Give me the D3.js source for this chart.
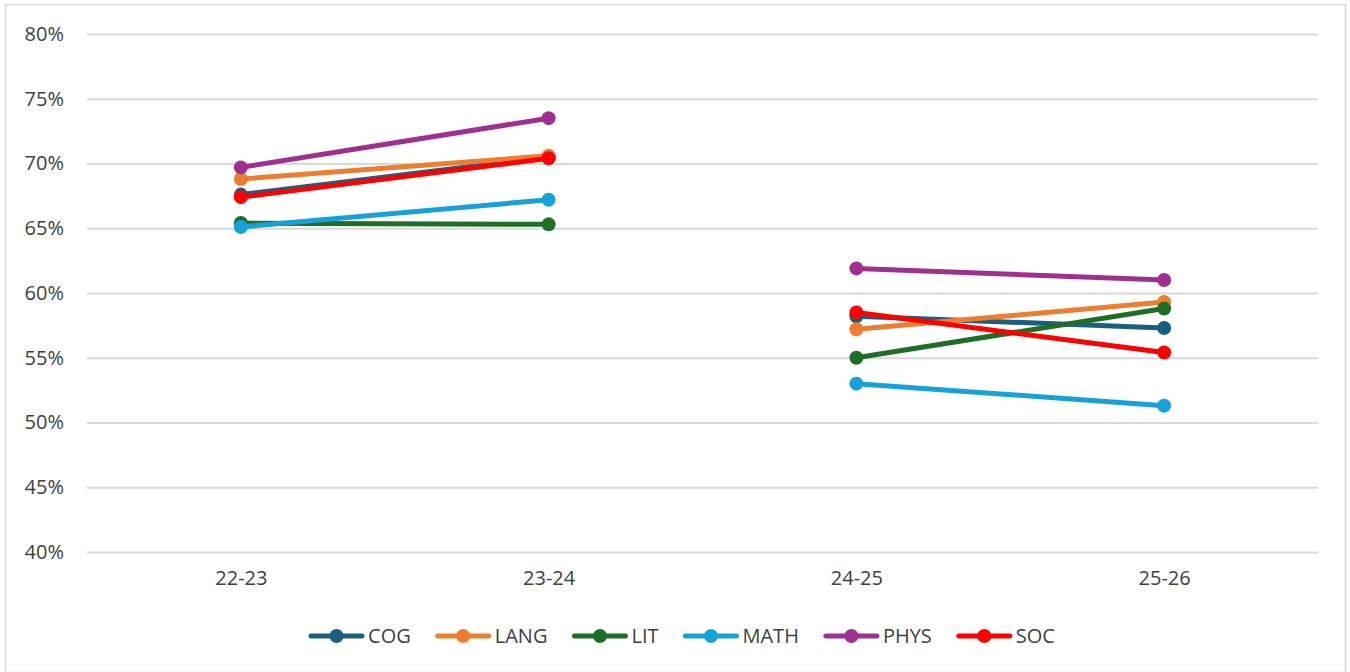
<!DOCTYPE html>
<html>
<head>
<meta charset="utf-8">
<script src="https://cdn.jsdelivr.net/npm/d3@7"></script>
<style>
  html, body { margin: 0; padding: 0; background: #fff; }
  svg { display: block; }
  text { font-family: "Open Sans", "Noto Sans", sans-serif; fill: #404040; }
</style>
</head>
<body>
<svg id="chart" width="1350" height="672"></svg>
<script>
// School years on the category axis
const years = ["22-23", "23-24", "24-25", "25-26"];
// Lines are drawn separately for each pair of years
const yearGroups = [["22-23", "23-24"], ["24-25", "25-26"]];

// Share of students meeting the benchmark, by domain (fractions)
const cog  = [0.676, 0.705, 0.582, 0.573];
const lang = [0.688, 0.706, 0.572, 0.593];
const lit  = [0.654, 0.653, 0.550, 0.588];
const math = [0.651, 0.672, 0.530, 0.513];
const phys = [0.697, 0.735, 0.619, 0.610];
const soc  = [0.674, 0.704, 0.585, 0.554];

const seriesNames = ["COG", "LANG", "LIT", "MATH", "PHYS", "SOC"];
const seriesValues = [cog, lang, lit, math, phys, soc];
const seriesColors = ["#1b5e80", "#ed7d31", "#1f6e28", "#17a1d9", "#a0308f", "#ff0000"];

const yTicks = [0.40, 0.45, 0.50, 0.55, 0.60, 0.65, 0.70, 0.75, 0.80];

const svg = d3.select("#chart");
const W = 1350, H = 672;
const plot = { left: 87, right: 1318, top: 34, bottom: 552 };
const fontSize = 20;

// Outer chart frame
svg.append("rect")
  .attr("x", 5.5).attr("y", 4.5)
  .attr("width", W - 10).attr("height", H - 4)
  .attr("fill", "#fff").attr("stroke", "#d9d9d9").attr("stroke-width", 1.5);

const x = d3.scalePoint().domain(years).range([plot.left, plot.right]).padding(0.5);
const y = d3.scaleLinear().domain([0.40, 0.80]).range([plot.bottom, plot.top]);

// Horizontal gridlines and percentage labels
const yAxis = d3.axisLeft(y)
  .tickValues(yTicks)
  .tickFormat(d3.format(".0%"))
  .tickSize(-(plot.right - plot.left))
  .tickPadding(23);
const gy = svg.append("g").attr("transform", `translate(${plot.left},0)`).call(yAxis);
gy.select(".domain").remove();
gy.selectAll(".tick line").attr("stroke", "#d9d9d9").attr("stroke-width", 2);
gy.selectAll(".tick text").attr("font-size", fontSize).attr("fill", "#404040");

// Category labels
const xAxis = d3.axisBottom(x).tickSize(0).tickPadding(19);
const gx = svg.append("g").attr("transform", `translate(0,${plot.bottom})`).call(xAxis);
gx.select(".domain").remove();
gx.selectAll(".tick text").attr("font-size", fontSize).attr("fill", "#404040");

const line = d3.line().x(d => x(d.year)).y(d => y(d.value));

// Series lines and markers
seriesNames.forEach((name, i) => {
  const pts = years.map((yr, j) => ({ year: yr, value: seriesValues[i][j] }));
  const g = svg.append("g").attr("class", "series " + name);
  yearGroups.forEach(grp => {
    const seg = pts.filter(p => grp.includes(p.year));
    g.append("path")
      .datum(seg)
      .attr("d", line)
      .attr("fill", "none")
      .attr("stroke", seriesColors[i])
      .attr("stroke-width", 5)
      .attr("stroke-linecap", "round");
  });
  g.selectAll("circle").data(pts).join("circle")
    .attr("cx", d => x(d.year))
    .attr("cy", d => y(d.value))
    .attr("r", 7)
    .attr("fill", seriesColors[i]);
});

// Legend, centered below the axis
const legend = svg.append("g").attr("class", "legend");
const legendY = 636;
const swatchW = 55, textGap = 4, itemGap = 25;
const items = seriesNames.map((name, i) => {
  const item = legend.append("g");
  item.append("line")
    .attr("x1", 2).attr("x2", swatchW - 2)
    .attr("y1", 0).attr("y2", 0)
    .attr("stroke", seriesColors[i]).attr("stroke-width", 5)
    .attr("stroke-linecap", "round");
  item.append("circle").attr("cx", swatchW / 2).attr("cy", 0).attr("r", 7)
    .attr("fill", seriesColors[i]);
  const t = item.append("text")
    .attr("x", swatchW + textGap).attr("y", 0)
    .attr("dy", "0.35em").attr("font-size", fontSize).attr("fill", "#404040")
    .text(name);
  return { item, w: swatchW + textGap + t.node().getComputedTextLength() };
});
const totalW = d3.sum(items, d => d.w) + itemGap * (items.length - 1);
let cx = 682 - totalW / 2;
items.forEach(d => {
  d.item.attr("transform", `translate(${cx},${legendY})`);
  cx += d.w + itemGap;
});
</script>
</body>
</html>
